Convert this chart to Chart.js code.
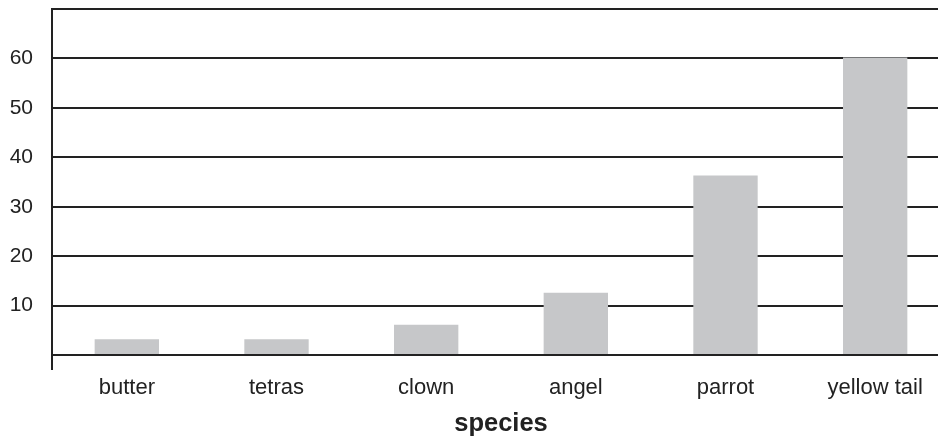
<!DOCTYPE html>
<html>
<head>
<meta charset="utf-8">
<script src="https://cdn.jsdelivr.net/npm/chart.js@4"></script>
<style>
  html, body { margin: 0; padding: 0; background: #fff; overflow: hidden; }
  #wrap { width: 938px; height: 439px; overflow: hidden; }
  #box { width: 950px; height: 439px; }
</style>
</head>
<body>
<div id="wrap"><div id="box"><canvas id="fishChart"></canvas></div></div>
<script>
const species = ['butter', 'tetras', 'clown', 'angel', 'parrot', 'yellow tail'];
const counts = [3.2, 3.2, 6.1, 12.6, 36.3, 60.2];
const yTicks = [10, 20, 30, 40, 50, 60];

const ink = '#222222';
const ctx = document.getElementById('fishChart').getContext('2d');

new Chart(ctx, {
  type: 'bar',
  data: {
    labels: species,
    datasets: [{
      data: counts,
      backgroundColor: '#c6c7c9',
      borderWidth: 0,
      categoryPercentage: 1,
      barPercentage: 0.43
    }]
  },
  options: {
    responsive: true,
    maintainAspectRatio: false,
    animation: false,
    layout: { padding: { top: 9, left: 0, right: 0, bottom: 0 } },
    plugins: { legend: { display: false }, tooltip: { enabled: false } },
    scales: {
      x: {
        border: { display: false },
        grid: {
          drawOnChartArea: false,
          tickLength: 15,
          lineWidth: 2,
          color: c => c.index === 0 ? ink : 'rgba(0,0,0,0)'
        },
        ticks: {
          color: ink,
          padding: 5,
          maxRotation: 0,
          font: { family: 'Liberation Sans, Arial, sans-serif', size: 22 }
        },
        title: {
          display: true,
          text: 'species',
          color: ink,
          padding: { top: 7, bottom: 0 },
          font: { family: 'Liberation Sans, Arial, sans-serif', size: 25.5, weight: 'bold' }
        },
        afterFit: s => { s.height = 84; s.paddingLeft = 0; s.paddingRight = 0; }
      },
      y: {
        min: 0,
        max: 70,
        border: { display: true, color: ink, width: 2 },
        grid: { color: ink, lineWidth: 2, tickLength: 0 },
        ticks: {
          stepSize: 10,
          color: ink,
          padding: 19,
          font: { family: 'Liberation Sans, Arial, sans-serif', size: 21 },
          callback: v => yTicks.includes(v) ? String(v) : ''
        },
        afterFit: s => { s.width = 52; s.paddingTop = 0; s.paddingBottom = 0; }
      }
    }
  }
});
</script>
</body>
</html>
